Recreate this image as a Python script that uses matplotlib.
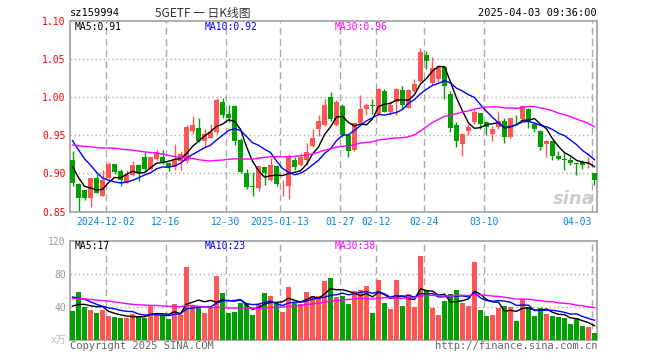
import matplotlib
matplotlib.use("Agg")
import matplotlib.pyplot as plt
import numpy as np
import pandas as pd

# daily K data, 2024-11-22 .. 2025-04-03 (88 trading days)
open_ = [0.918, 0.886, 0.878, 0.868, 0.894, 0.871, 0.894, 0.912, 0.903, 0.889,
         0.898, 0.911, 0.922, 0.906, 0.919, 0.922, 0.914, 0.908, 0.916, 0.916,
         0.956, 0.959, 0.942, 0.947, 0.954, 0.994, 0.978, 0.988, 0.944, 0.900,
         0.884, 0.881, 0.908, 0.892, 0.910, 0.878, 0.883, 0.918, 0.911, 0.917,
         0.936, 0.958, 0.964, 1.000, 0.964, 0.988, 0.950, 0.931, 0.966, 0.984,
         0.989, 0.978, 1.008, 0.981, 0.993, 1.009, 0.986, 1.008, 1.021, 1.055,
         1.018, 1.023, 1.039, 1.004, 0.964, 0.938, 0.955, 0.967, 0.979, 0.967,
         0.951, 0.961, 0.968, 0.948, 0.973, 0.971, 0.984, 0.965, 0.955, 0.938,
         0.942, 0.923, 0.919, 0.917, 0.914, 0.915, 0.913, 0.901]
high = [0.930, 0.887, 0.879, 0.894, 0.899, 0.905, 0.915, 0.913, 0.906, 0.905,
        0.916, 0.912, 0.928, 0.922, 0.932, 0.931, 0.915, 0.938, 0.930, 0.964,
        0.975, 0.972, 0.958, 0.965, 0.999, 0.999, 0.989, 0.989, 0.947, 0.906,
        0.902, 0.910, 0.908, 0.920, 0.911, 0.892, 0.925, 0.921, 0.927, 0.940,
        0.958, 0.977, 0.997, 1.007, 0.996, 0.991, 0.951, 0.967, 1.002, 0.992,
        0.997, 1.012, 1.010, 0.995, 1.012, 1.015, 1.011, 1.023, 1.064, 1.060,
        1.052, 1.040, 1.040, 1.008, 0.967, 0.953, 0.965, 0.984, 0.979, 0.968,
        0.962, 0.981, 0.972, 0.972, 0.976, 0.990, 0.985, 0.966, 0.957, 0.944,
        0.943, 0.930, 0.927, 0.921, 0.914, 0.918, 0.921, 0.901]
low = [0.884, 0.849, 0.865, 0.856, 0.874, 0.870, 0.893, 0.899, 0.884, 0.888,
       0.897, 0.890, 0.902, 0.904, 0.918, 0.913, 0.903, 0.905, 0.904, 0.914,
       0.951, 0.941, 0.935, 0.946, 0.951, 0.972, 0.967, 0.937, 0.900, 0.880,
       0.870, 0.877, 0.885, 0.890, 0.884, 0.871, 0.867, 0.904, 0.910, 0.911,
       0.935, 0.949, 0.962, 0.968, 0.962, 0.948, 0.922, 0.929, 0.965, 0.977,
       0.978, 0.977, 0.980, 0.977, 0.977, 0.984, 0.985, 1.007, 1.020, 1.036,
       1.016, 1.020, 0.998, 0.954, 0.934, 0.923, 0.950, 0.965, 0.958, 0.950,
       0.942, 0.958, 0.940, 0.946, 0.965, 0.969, 0.960, 0.954, 0.931, 0.921,
       0.918, 0.918, 0.904, 0.911, 0.898, 0.906, 0.907, 0.885]
close = [0.887, 0.868, 0.868, 0.894, 0.875, 0.891, 0.912, 0.902, 0.891, 0.898,
         0.911, 0.900, 0.906, 0.922, 0.928, 0.915, 0.909, 0.918, 0.926, 0.961,
         0.963, 0.943, 0.952, 0.954, 0.996, 0.977, 0.972, 0.942, 0.902, 0.882,
         0.882, 0.910, 0.900, 0.911, 0.886, 0.879, 0.923, 0.908, 0.921, 0.928,
         0.947, 0.969, 0.989, 0.971, 0.994, 0.950, 0.929, 0.966, 0.984, 0.989,
         0.988, 1.011, 0.981, 0.989, 1.011, 0.989, 1.009, 1.017, 1.059, 1.047,
         1.038, 1.039, 1.015, 0.960, 0.942, 0.952, 0.961, 0.980, 0.965, 0.961,
         0.958, 0.968, 0.948, 0.972, 0.972, 0.988, 0.969, 0.958, 0.935, 0.942,
         0.923, 0.919, 0.917, 0.914, 0.913, 0.911, 0.914, 0.892]
# volume, 万手
volume = [35, 58, 40, 36, 32.5, 36, 29, 28, 26, 26,
          32, 29, 27, 41, 31, 30.5, 25, 43, 30, 88,
          42, 38.5, 32.5, 38.5, 77, 56.5, 32.5, 34, 44.5, 44,
          30, 43, 56.5, 53, 44.5, 34, 64, 44.5, 43, 58,
          53, 53, 71, 75, 52, 53, 43, 59.5, 60, 65,
          32.5, 72, 44.5, 37, 72, 41, 55, 40, 102, 59.5,
          39, 30, 47, 55, 61, 44.5, 41, 94, 36, 29,
          30, 39, 41, 40, 23, 49, 40, 29, 38.5, 31,
          29, 28, 26.5, 19, 26.5, 17, 15.5, 8.5]

# days before the window, only needed for the moving averages
pre_close = [0.895, 0.900, 0.905, 0.900, 0.910, 0.915, 0.910, 0.920, 0.925, 0.930,
             0.935, 0.940, 0.945, 0.950, 0.955, 0.960, 0.965, 0.970, 0.975, 0.980,
             0.990, 0.985, 0.975, 0.970, 0.965, 0.940, 0.925, 0.905, 0.888]
pre_volume = [52, 58, 50, 61, 55, 48, 57, 53, 60, 56,
              45, 40, 47, 38, 44, 42, 46, 41, 43, 44,
              70, 55, 68, 62, 60, 48, 40, 44, 38]

tick_idx = [6, 16, 26, 35, 45, 51, 59, 69, 87]
tick_labels = ['2024-12-02', '12-16', '12-30', '2025-01-13', '01-27',
               '02-12', '02-24', '03-10', '04-03']

RED = '#ff5555'
GREEN = '#00a000'
GRID = '#aaaaaa'
MONO = ['DejaVu Sans Mono', 'Noto Sans CJK SC']

n = len(close)
x = np.arange(n)
o = np.array(open_)
c = np.array(close)
colors = [RED if c[i] >= o[i] else GREEN for i in range(n)]

cs = pd.Series(pre_close + close)
vs = pd.Series(pre_volume + volume)
ma = {k: cs.rolling(k).mean().values[-n:] for k in (5, 10, 30)}
vma = {k: vs.rolling(k).mean().values[-n:] for k in (5, 10, 30)}
ma_colors = {5: 'black', 10: '#0000ff', 30: '#ff00ff'}

W, H = 660, 360
fig = plt.figure(figsize=(W / 100, H / 100), dpi=100)


def px(xp, yp):
    return xp / W, 1 - yp / H


ax = fig.add_axes([70 / W, 1 - 211.7 / H, 527 / W, 191.2 / H])
ax2 = fig.add_axes([70 / W, 1 - 340 / H, 527 / W, 99.3 / H])

for a in (ax, ax2):
    a.set_xlim(-0.42, n - 1 + 0.42)
    for s in a.spines.values():
        s.set_color('#a0a0a0')
        s.set_linewidth(1.2)
    for t in tick_idx:
        a.axvline(t - 0.42, color=GRID, lw=1, ls=(0, (5, 3)), zorder=0)

# candles
body_w = 0.83
ax.vlines(x, low, high, colors=colors, lw=1, zorder=2)
body = np.maximum(np.abs(c - o), 0.0007)
ax.bar(x, body, bottom=np.minimum(o, c), width=body_w, color=colors,
       linewidth=0, zorder=3)
for k in (5, 10, 30):
    ax.plot(x, ma[k], color=ma_colors[k], lw=1, zorder=4)

ax.set_ylim(0.85, 1.10)
yt = [0.85, 0.90, 0.95, 1.00, 1.05, 1.10]
ax.set_yticks(yt)
ax.set_yticklabels(['%.2f' % v for v in yt], color='#ff0000',
                   family=MONO, fontsize=7)
for v in yt[1:-1]:
    ax.axhline(v, color=GRID, lw=1, ls=(0, (1, 2)), zorder=0)
ax.set_xticks(np.array(tick_idx) - 0.42)
ax.set_xticklabels(tick_labels, color='#0a84d8', family=MONO, fontsize=7)
ax.get_xticklabels()[-1].set_ha('right')
ax.tick_params(length=0, pad=3)
ax.tick_params(axis='x', pad=4)

# volume
ax2.bar(x, volume, width=body_w, color=colors, linewidth=0, zorder=3)
for k in (5, 10, 30):
    ax2.plot(x, vma[k], color=ma_colors[k], lw=1, zorder=4)
ax2.set_ylim(0, 120)
ax2.set_yticks([40, 80, 120])
ax2.set_yticklabels(['40', '80', '120'], color='#999999', family=MONO,
                    fontsize=7)
for v in (40, 80):
    ax2.axhline(v, color=GRID, lw=1, ls=(0, (1, 2)), zorder=0)
ax2.set_xticks([])
ax2.tick_params(length=0, pad=3)

# header and labels
fig.text(*px(70, 13), 'sz159994', family=MONO, fontsize=7.5, va='center')
fig.text(*px(203, 13), '5GETF 一 日K线图', family=['Noto Sans CJK SC'],
         fontsize=8.5, va='center', ha='center', color='#333333')
fig.text(*px(597, 13), '2025-04-03 09:36:00', family=MONO, fontsize=7.5,
         va='center', ha='right')
fig.text(*px(75, 27), 'MA5:0.91', family=MONO, fontsize=7, va='center',
         color='black')
fig.text(*px(205, 27), 'MA10:0.92', family=MONO, fontsize=7, va='center',
         color='#0000ff')
fig.text(*px(335, 27), 'MA30:0.96', family=MONO, fontsize=7, va='center',
         color='#ff00ff')
fig.text(*px(75, 246), 'MA5:17', family=MONO, fontsize=7, va='center',
         color='black')
fig.text(*px(205, 246), 'MA10:23', family=MONO, fontsize=7, va='center',
         color='#0000ff')
fig.text(*px(335, 246), 'MA30:38', family=MONO, fontsize=7, va='center',
         color='#ff00ff')
fig.text(*px(66, 340), 'x万', family=MONO, fontsize=7, va='center',
         ha='right', color='#bbbbbb')
fig.text(*px(70, 346), 'Copyright 2025 SINA.COM', family=MONO, fontsize=7.5,
         va='center', color='#666666')
fig.text(*px(597, 346), 'http://finance.sina.com.cn', family=MONO,
         fontsize=7.5, va='center', ha='right', color='#666666')
fig.text(*px(595, 199), 'sina', fontsize=13, style='italic', weight='bold',
         ha='right', va='center', color='#cccccc')

fig.savefig('out.png', dpi=100)
